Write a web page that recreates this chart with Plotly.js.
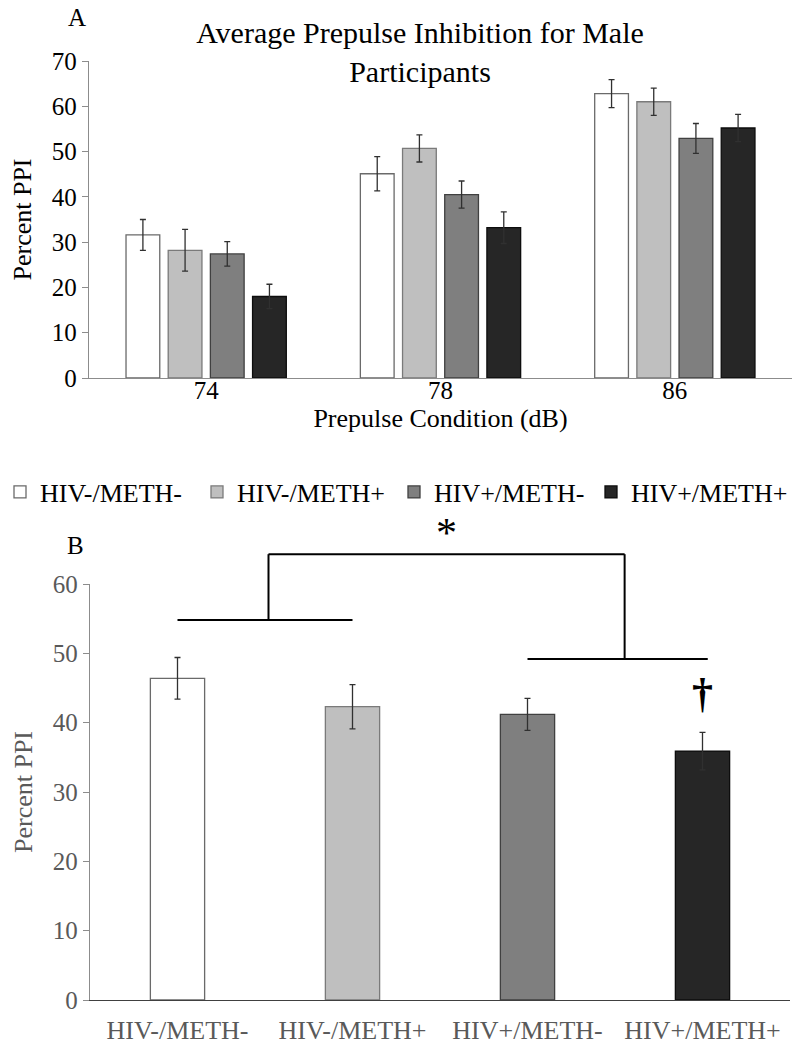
<!DOCTYPE html>
<html>
<head>
<meta charset="utf-8">
<script src="https://cdn.plot.ly/plotly-3.0.1.min.js"></script>
<style>html,body{margin:0;padding:0;background:#fff;}#chart{width:801px;height:1050px;}</style>
</head>
<body>
<div id="chart"></div>
<script>
// ---- data ----
const conditions = ['74', '78', '86'];
const groupNames = ['HIV-/METH-', 'HIV-/METH+', 'HIV+/METH-', 'HIV+/METH+'];
const ppiNegNeg = [31.6, 45.1, 62.8];
const errNegNeg = [3.4, 3.8, 3.1];
const ppiNegPos = [28.2, 50.7, 61.0];
const errNegPos = [4.6, 3.0, 3.0];
const ppiPosNeg = [27.4, 40.5, 52.9];
const errPosNeg = [2.7, 3.0, 3.3];
const ppiPosPos = [18.0, 33.2, 55.2];
const errPosPos = [2.7, 3.5, 3.0];
const avgPPI = [46.4, 42.3, 41.2, 35.9];
const avgErr = [3.0, 3.2, 2.3, 2.7];
// significance brackets (category index / value units)
const bracketLeft = {x0: 0, x1: 1, xm: 0.52, y: 54.8};
const bracketRight = {x0: 2, x1: 3.03, xm: 2.555, y: 49.2};
const bracketTop = 64.3;
const starLevel = 67.3;
const daggerLevel = 44.3;

// ---- styles ----
const fills = ['#ffffff', '#bfbfbf', '#7f7f7f', '#262626'];
const edges = ['#6a6a6a', '#7a7a7a', '#404040', '#0d0d0d'];
const FONT = '"Liberation Serif", "Times New Roman", serif';
const W = 801, H = 1050;
const axA = {x0: 89 / W, x1: 792 / W, y0: 1 - 378 / H, y1: 1 - 61 / H};
const axB = {x0: 90 / W, x1: 790 / W, y0: 1 - 1000 / H, y1: 1 - 584 / H};
const rangeB = [0, 60];
const pB = v => axB.y0 + (v - rangeB[0]) / (rangeB[1] - rangeB[0]) * (axB.y1 - axB.y0);

const seriesA = [
  [ppiNegNeg, errNegNeg], [ppiNegPos, errNegPos], [ppiPosNeg, errPosNeg], [ppiPosPos, errPosPos]
];
const traces = seriesA.map((s, i) => ({
  type: 'bar', name: groupNames[i], x: conditions, y: s[0],
  xaxis: 'x', yaxis: 'y',
  marker: {color: fills[i], line: {color: edges[i], width: 1.3}},
  error_y: {type: 'data', array: s[1], visible: true, color: '#303030', thickness: 1.3, width: 3}
}));
traces.push({
  type: 'bar', x: groupNames, y: avgPPI, xaxis: 'x2', yaxis: 'y2', showlegend: false,
  width: 0.31,
  marker: {color: fills, line: {color: edges, width: 1.3}},
  error_y: {type: 'data', array: avgErr, visible: true, color: '#303030', thickness: 1.3, width: 3}
});

const lineStyle = {color: '#000', width: 2};
const shapes = [
  {type: 'line', xref: 'x2', yref: 'paper', x0: bracketLeft.x0, x1: bracketLeft.x1, y0: pB(bracketLeft.y), y1: pB(bracketLeft.y), line: lineStyle},
  {type: 'line', xref: 'x2', yref: 'paper', x0: bracketRight.x0, x1: bracketRight.x1, y0: pB(bracketRight.y), y1: pB(bracketRight.y), line: lineStyle},
  {type: 'line', xref: 'x2', yref: 'paper', x0: bracketLeft.xm, x1: bracketLeft.xm, y0: pB(bracketLeft.y), y1: pB(bracketTop), line: lineStyle},
  {type: 'line', xref: 'x2', yref: 'paper', x0: bracketRight.xm, x1: bracketRight.xm, y0: pB(bracketRight.y), y1: pB(bracketTop), line: lineStyle},
  {type: 'line', xref: 'x2', yref: 'paper', x0: bracketLeft.xm, x1: bracketRight.xm, y0: pB(bracketTop), y1: pB(bracketTop), line: lineStyle}
];

const annotations = [
  {text: 'A', xref: 'paper', yref: 'paper', x: 77 / W, y: 1 - 18 / H, xanchor: 'center', yanchor: 'middle', showarrow: false, font: {family: FONT, size: 25, color: '#000'}},
  {text: 'B', xref: 'paper', yref: 'paper', x: 75 / W, y: 1 - 545 / H, xanchor: 'center', yanchor: 'middle', showarrow: false, font: {family: FONT, size: 25, color: '#000'}},
  {text: '*', xref: 'x2', yref: 'paper', x: (bracketLeft.xm + bracketRight.xm) / 2, y: pB(starLevel), yanchor: 'middle', showarrow: false, font: {family: FONT, size: 42, color: '#000'}},
  {text: '<b>†</b>', xref: 'x2', yref: 'y2', x: 3, y: daggerLevel, showarrow: false, font: {family: FONT, size: 42, color: '#000'}}
];

const layout = {
  width: W, height: H,
  margin: {l: 0, r: 0, t: 0, b: 0},
  paper_bgcolor: '#fff', plot_bgcolor: '#fff',
  font: {family: FONT, color: '#000', size: 25},
  title: {text: 'Average Prepulse Inhibition for Male<br>Participants', x: 420 / W, xanchor: 'center', y: 1 - 43 / H, yanchor: 'middle', font: {family: FONT, size: 30, color: '#000'}},
  barmode: 'group', bargap: 0.28, bargroupgap: 0.2,
  showlegend: true,
  legend: {orientation: 'h', x: 0.0, xanchor: 'left', y: 1 - 492 / H, yanchor: 'middle', font: {family: FONT, size: 26, color: '#000'}, itemwidth: 30, traceorder: 'normal', entrywidth: 152, entrywidthmode: 'pixels'},
  xaxis: {domain: [axA.x0, axA.x1], anchor: 'y', type: 'category', showline: true, linecolor: '#8c8c8c', linewidth: 1.3, ticks: '', showgrid: false, zeroline: false,
          tickfont: {family: FONT, size: 25, color: '#000'}, ticklabelstandoff: -10,
          title: {text: 'Prepulse Condition (dB)', font: {family: FONT, size: 26, color: '#000'}, standoff: 0}},
  yaxis: {domain: [axA.y0, axA.y1], anchor: 'x', range: [0, 70], dtick: 10, showline: true, linecolor: '#8c8c8c', linewidth: 1.3, ticks: 'outside', ticklen: 6, tickcolor: '#8c8c8c', showgrid: false, zeroline: false,
          tickfont: {family: FONT, size: 25, color: '#000'},
          title: {text: 'Percent PPI', font: {family: FONT, size: 26, color: '#000'}, standoff: 12}},
  xaxis2: {domain: [axB.x0, axB.x1], anchor: 'y2', type: 'category', showline: true, linecolor: '#404040', linewidth: 1.3, ticks: '', showgrid: false, zeroline: false,
          tickfont: {family: FONT, size: 26, color: '#595959'}, ticklabelstandoff: 6},
  yaxis2: {domain: [axB.y0, axB.y1], anchor: 'x2', range: rangeB, dtick: 10, showline: true, linecolor: '#8c8c8c', linewidth: 1.3, ticks: 'outside', ticklen: 6, tickcolor: '#8c8c8c', showgrid: false, zeroline: false,
          tickfont: {family: FONT, size: 25, color: '#595959'},
          title: {text: 'Percent PPI', font: {family: FONT, size: 26, color: '#595959'}, standoff: 12}},
  shapes: shapes,
  annotations: annotations
};

Plotly.newPlot('chart', traces, layout, {displayModeBar: false, staticPlot: true});
</script>
</body>
</html>
